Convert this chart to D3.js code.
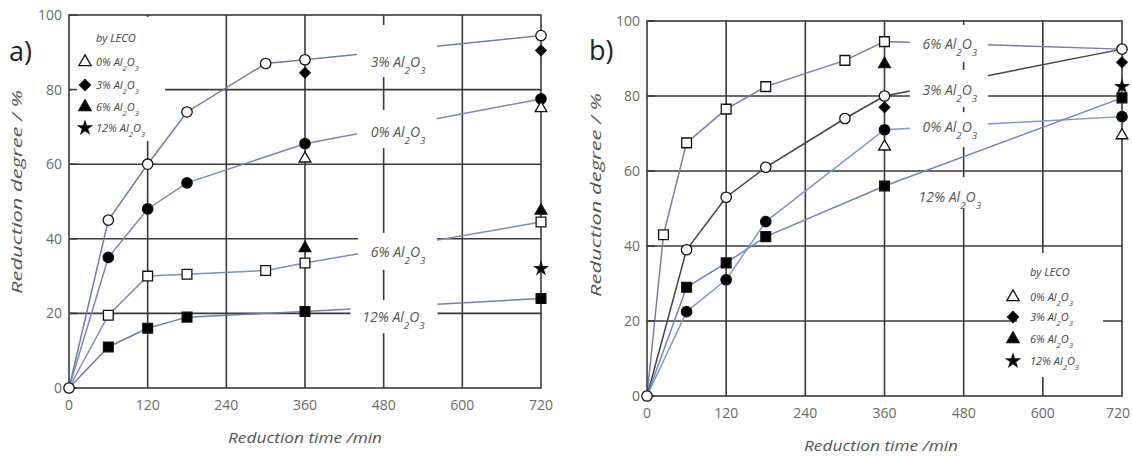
<!DOCTYPE html>
<html lang="en">
<head>
  <meta charset="UTF-8">
  <title>Reduction degree vs reduction time</title>
  <style>
    body { margin: 0; padding: 0; background: #fff; }
    svg { display: block; }
    text { font-family: "Open Sans", "Liberation Sans", sans-serif; }
    .tick-label { font-size: 14px; fill: #6a6a6a; }
    .axis-title { font-size: 15px; font-style: italic; fill: #555; }
    .series-label { font-size: 14px; font-style: italic; fill: #555; }
    .legend text { font-size: 11px; font-style: italic; fill: #444; }
    .panel-tag { font-size: 27px; fill: #222; }
  </style>
</head>
<body>
  <svg id="chart" width="1132" height="456"></svg>

  <script src="https://d3js.org/d3.v7.min.js"></script>
  <script>
  (function(){
    // ---- data (time in min, reduction degree in %) ----
    const timeTicks   = [0, 120, 240, 360, 480, 600, 720],
          degreeTicks = [0, 20, 40, 60, 80, 100];

    // panel a)
    const a_0pct  = [[0,0],[60,35],[120,48],[180,55],[360,65.5],[720,77.5]],
          a_3pct  = [[0,0],[60,45],[120,60],[180,74],[300,87],[360,88],[720,94.5]],
          a_6pct  = [[0,0],[60,19.5],[120,30],[180,30.5],[300,31.5],[360,33.5],[720,44.5]],
          a_12pct = [[0,0],[60,11],[120,16],[180,19],[360,20.5],[720,24]];
    const a_leco0  = [[360,61.5],[720,75]],
          a_leco3  = [[360,84.5],[720,90.5]],
          a_leco6  = [[360,37.5],[720,47.5]],
          a_leco12 = [[720,32]];

    // panel b)
    const b_0pct  = [[0,0],[60,22.5],[120,31],[180,46.5],[360,71],[720,74.5]],
          b_3pct  = [[0,0],[60,39],[120,53],[180,61],[300,74],[360,80],[720,92.5]],
          b_6pct  = [[0,0],[25,43],[60,67.5],[120,76.5],[180,82.5],[300,89.5],[360,94.5],[720,92.5]],
          b_12pct = [[0,0],[60,29],[120,35.5],[180,42.5],[360,56],[720,79.5]];
    const b_leco0  = [[360,66.5],[720,69.5]],
          b_leco3  = [[360,77],[720,89]],
          b_leco6  = [[360,88.5]],
          b_leco12 = [[720,82.5]];

    const lecoLabels = ["0%", "3%", "6%", "12%"];

    const svg = d3.select("#chart"),
          W = +svg.attr("width");

    const sym = {
      openCircle:  { type: d3.symbolCircle,   size: 85,  fill: "#fff" },
      fillCircle:  { type: d3.symbolCircle,   size: 85,  fill: "#000" },
      openSquare:  { type: d3.symbolSquare,   size: 95,  fill: "#fff" },
      fillSquare:  { type: d3.symbolSquare,   size: 95,  fill: "#000" },
      openTri:     { type: d3.symbolTriangle, size: 60,  fill: "#fff" },
      fillTri:     { type: d3.symbolTriangle, size: 60,  fill: "#000" },
      fillDiamond: { type: d3.symbolDiamond2, size: 70,  fill: "#000" },
      star:        { type: d3.symbolStar,     size: 45,  fill: "#000" }
    };

    // text like "3% Al2O3" with subscripts
    function alText(sel, pct) {
      sel.append("tspan").text(pct + " Al");
      sel.append("tspan").attr("baseline-shift", "sub").attr("font-size", "0.7em").text("2");
      sel.append("tspan").text("O");
      sel.append("tspan").attr("baseline-shift", "sub").attr("font-size", "0.7em").text("3");
    }

    function drawPanel(cfg) {
      const x = d3.scaleLinear().domain([0, 720]).range(cfg.xRange),
            y = d3.scaleLinear().domain([0, 100]).range(cfg.yRange);
      const g = svg.append("g");
      const gridColor = "#3a3a3a";

      // grid
      g.append("g").selectAll("line")
        .data(timeTicks.slice(1, -1))
        .join("line")
          .attr("x1", d => x(d)).attr("x2", d => x(d))
          .attr("y1", y(0)).attr("y2", y(100))
          .attr("stroke", gridColor).attr("stroke-width", 1.6);
      g.append("g").selectAll("line")
        .data(degreeTicks.slice(1, -1))
        .join("line")
          .attr("x1", x(0)).attr("x2", x(720))
          .attr("y1", d => y(d)).attr("y2", d => y(d))
          .attr("stroke", gridColor).attr("stroke-width", 1.6);

      // series lines
      const line = d3.line().x(d => x(d[0])).y(d => y(d[1]));
      cfg.series.forEach(s => {
        g.append("path")
          .datum(s.data)
          .attr("d", line)
          .attr("fill", "none")
          .attr("stroke", s.color)
          .attr("stroke-width", 1.5);
      });

      // white boxes behind the in-plot labels and the legend
      cfg.series.forEach(s => {
        const cx = x(s.label[0]), cy = y(s.label[1]), b = s.box;
        g.append("rect")
          .attr("x", cx + b[0]).attr("y", cy + b[1])
          .attr("width", b[2] - b[0]).attr("height", b[3] - b[1])
          .attr("fill", "#fff");
      });
      const lb = cfg.legendBox;
      g.append("rect")
        .attr("x", lb[0]).attr("y", lb[1])
        .attr("width", lb[2] - lb[0]).attr("height", lb[3] - lb[1])
        .attr("fill", "#fff");

      cfg.series.forEach(s => {
        g.append("text")
          .attr("class", "series-label")
          .attr("x", x(s.label[0])).attr("y", y(s.label[1]))
          .attr("dy", "0.35em")
          .attr("text-anchor", "middle")
          .call(alText, s.name);
      });

      // border + inner ticks
      g.append("rect")
        .attr("x", x(0)).attr("y", y(100))
        .attr("width", x(720) - x(0)).attr("height", y(0) - y(100))
        .attr("fill", "none").attr("stroke", gridColor).attr("stroke-width", 1.6);
      g.append("g").selectAll("line")
        .data(degreeTicks)
        .join("line")
          .attr("x1", x(0)).attr("x2", x(0) + 8)
          .attr("y1", d => y(d)).attr("y2", d => y(d))
          .attr("stroke", gridColor).attr("stroke-width", 1.6);

      // markers
      const drawMarkers = (pts, m) => {
        g.append("g").selectAll("path")
          .data(pts)
          .join("path")
            .attr("transform", d => `translate(${x(d[0])},${y(d[1])})`)
            .attr("d", d3.symbol().type(m.type).size(m.size))
            .attr("fill", m.fill)
            .attr("stroke", "#111")
            .attr("stroke-width", 1.3);
      };
      cfg.series.forEach(s => {
        const pts = s.data.filter((d, i) => d[0] > 0 && !(s.noLast && i === s.data.length - 1));
        drawMarkers(pts, s.marker);
      });
      cfg.leco.forEach(l => drawMarkers(l.data, l.marker));
      drawMarkers([[0, 0]], sym.openCircle);

      // tick labels (keep the last one inside the page)
      g.append("g").selectAll("text")
        .data(timeTicks)
        .join("text")
          .attr("class", "tick-label")
          .attr("x", d => Math.min(x(d), W - 14)).attr("y", y(0) + cfg.xTickDy)
          .attr("text-anchor", "middle")
          .text(d => d);
      g.append("g").selectAll("text")
        .data(degreeTicks)
        .join("text")
          .attr("class", "tick-label")
          .attr("x", x(0) - 7).attr("y", d => y(d))
          .attr("dy", "0.35em")
          .attr("text-anchor", "end")
          .text(d => d);

      // axis titles
      g.append("text")
        .attr("class", "axis-title")
        .attr("x", cfg.xTitle[0]).attr("y", cfg.xTitle[1])
        .attr("text-anchor", "middle")
        .attr("textLength", 154).attr("lengthAdjust", "spacingAndGlyphs")
        .text("Reduction time /min");
      g.append("text")
        .attr("class", "axis-title")
        .attr("transform", `translate(${cfg.yTitle[0]},${cfg.yTitle[1]}) rotate(-90)`)
        .attr("text-anchor", "middle")
        .attr("textLength", 204).attr("lengthAdjust", "spacingAndGlyphs")
        .text("Reduction degree  / %");

      g.append("text")
        .attr("class", "panel-tag")
        .attr("x", cfg.tag[0]).attr("y", cfg.tag[1])
        .text(cfg.tagText);

      // legend
      const lg = g.append("g").attr("class", "legend");
      const L = cfg.legend;
      lg.append("text").attr("x", L.textX).attr("y", L.titleY).attr("dy", "0.35em").text("by LECO");
      cfg.leco.forEach((l, i) => {
        const ly = L.rows[i];
        lg.append("path")
          .attr("transform", `translate(${L.symX},${ly})`)
          .attr("d", d3.symbol().type(l.marker.type).size(l.marker.size * 1.1))
          .attr("fill", l.marker.fill)
          .attr("stroke", "#111").attr("stroke-width", 1.3);
        lg.append("text").attr("x", L.textX).attr("y", ly).attr("dy", "0.35em")
          .call(alText, lecoLabels[i]);
      });
    }

    drawPanel({
      xRange: [69, 541], yRange: [388, 15],
      xTickDy: 22, xTitle: [305, 443], yTitle: [22, 192],
      tag: [9, 61], tagText: "a)",
      legendBox: [71, 17, 165, 141],
      legend: { symX: 85, textX: 96, titleY: 38, rows: [62, 85, 107, 128] },
      series: [
        { name: "3%",  data: a_3pct,  color: "#6f7ea6", marker: sym.openCircle, label: [502, 87.4], box: [-41, -37, 39, 15] },
        { name: "0%",  data: a_0pct,  color: "#7a8ab2", marker: sym.fillCircle, label: [502, 68.6], box: [-41, -22, 39, 16] },
        { name: "6%",  data: a_6pct,  color: "#7d90b8", marker: sym.openSquare, label: [502, 36.5], box: [-40, -19, 39, 18] },
        { name: "12%", data: a_12pct, color: "#6f80a8", marker: sym.fillSquare, label: [495, 19],   box: [-43, -17, 44, 16] }
      ],
      leco: [
        { data: a_leco0,  marker: sym.openTri },
        { data: a_leco3,  marker: sym.fillDiamond },
        { data: a_leco6,  marker: sym.fillTri },
        { data: a_leco12, marker: sym.star }
      ]
    });

    drawPanel({
      xRange: [647, 1122], yRange: [396, 21],
      xTickDy: 22, xTitle: [881, 451], yTitle: [601, 195],
      tag: [589, 60], tagText: "b)",
      legendBox: [1017, 253, 1103, 377],
      legend: { symX: 1013, textX: 1030, titleY: 272, rows: [297, 317, 339, 361] },
      series: [
        { name: "6%",  data: b_6pct,  color: "#7c7aa8", marker: sym.openSquare, label: [459, 93.9], box: [-40, -19, 38, 18], noLast: true },
        { name: "3%",  data: b_3pct,  color: "#444",    marker: sym.openCircle, label: [459, 81.6], box: [-40, -20, 38, 17] },
        { name: "0%",  data: b_0pct,  color: "#7f98c4", marker: sym.fillCircle, label: [459, 71.7], box: [-40, -15, 38, 20] },
        { name: "12%", data: b_12pct, color: "#6f86b6", marker: sym.fillSquare, label: [459, 53],   box: [-30, -20, 38, 11] }
      ],
      leco: [
        { data: b_leco0,  marker: sym.openTri },
        { data: b_leco3,  marker: sym.fillDiamond },
        { data: b_leco6,  marker: sym.fillTri },
        { data: b_leco12, marker: sym.star }
      ]
    });
  })();
  </script>
</body>
</html>
